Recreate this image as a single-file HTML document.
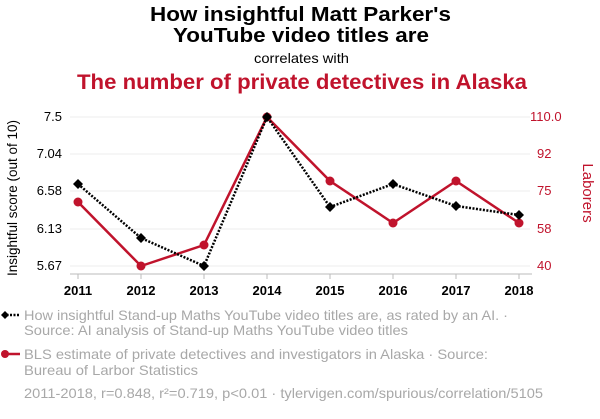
<!DOCTYPE html><html><head><style>body{margin:0;background:#fff;width:600px;height:414px;overflow:hidden;font-family:"Liberation Sans",sans-serif}</style></head><body>
<svg width="600" height="414" xmlns="http://www.w3.org/2000/svg" font-family="Liberation Sans, sans-serif">
<text x="150" y="21" font-size="20" font-weight="bold" textLength="301" lengthAdjust="spacingAndGlyphs">How insightful Matt Parker's</text>
<text x="173" y="42" font-size="20" font-weight="bold" textLength="256" lengthAdjust="spacingAndGlyphs">YouTube video titles are</text>
<text x="254" y="63" font-size="14" textLength="95" lengthAdjust="spacingAndGlyphs">correlates with</text>
<text x="77" y="89" font-size="21" font-weight="bold" fill="#c0132c" textLength="450" lengthAdjust="spacingAndGlyphs">The number of private detectives in Alaska</text>
<g stroke="#eee" stroke-width="1"><line x1="70" x2="530" y1="117" y2="117"/><line x1="70" x2="530" y1="154" y2="154"/><line x1="70" x2="530" y1="191" y2="191"/><line x1="70" x2="530" y1="229" y2="229"/><line x1="70" x2="530" y1="266" y2="266"/></g>
<line x1="70" x2="532" y1="274" y2="274" stroke="#bbb"/>
<g stroke="#bbb"><line x1="78" x2="78" y1="274" y2="279"/><line x1="141" x2="141" y1="274" y2="279"/><line x1="204" x2="204" y1="274" y2="279"/><line x1="267" x2="267" y1="274" y2="279"/><line x1="330" x2="330" y1="274" y2="279"/><line x1="393" x2="393" y1="274" y2="279"/><line x1="456" x2="456" y1="274" y2="279"/><line x1="519" x2="519" y1="274" y2="279"/></g>
<g font-size="13" font-weight="bold" text-anchor="middle"><text x="78" y="295">2011</text><text x="141" y="295">2012</text><text x="204" y="295">2013</text><text x="267" y="295">2014</text><text x="330" y="295">2015</text><text x="393" y="295">2016</text><text x="456" y="295">2017</text><text x="519" y="295">2018</text></g>
<g font-size="13" text-anchor="end"><text x="62" y="121">7.5</text><text x="62" y="158">7.04</text><text x="62" y="195">6.58</text><text x="62" y="233">6.13</text><text x="62" y="270">5.67</text></g>
<g font-size="13" fill="#c0132c"><text x="530" y="121">110.0</text><text x="537" y="158">92</text><text x="537" y="195">75</text><text x="537" y="233">58</text><text x="537" y="270">40</text></g>
<text transform="translate(17,198) rotate(-90)" text-anchor="middle" font-size="13.5">Insightful score (out of 10)</text>
<text transform="translate(583,193) rotate(90)" text-anchor="middle" font-size="15" fill="#c0132c">Laborers</text>
<polyline fill="none" stroke="#c0132c" stroke-width="2.5" points="78,202 141,266 204,245 267,117 330,181 393,223 456,181 519,223"/>
<g fill="#c0132c"><circle cx="78" cy="202" r="4.5"/><circle cx="141" cy="266" r="4.5"/><circle cx="204" cy="245" r="4.5"/><circle cx="267" cy="117" r="4.5"/><circle cx="330" cy="181" r="4.5"/><circle cx="393" cy="223" r="4.5"/><circle cx="456" cy="181" r="4.5"/><circle cx="519" cy="223" r="4.5"/></g>
<polyline fill="none" stroke="#000" stroke-width="2.5" stroke-dasharray="2,1.5" points="78,184 141,238 204,266 267,117 330,207 393,184 456,206 519,215"/>
<g fill="#000"><path d="M78 179l5 5-5 5-5-5z"/><path d="M141 233l5 5-5 5-5-5z"/><path d="M204 261l5 5-5 5-5-5z"/><path d="M267 112l5 5-5 5-5-5z"/><path d="M330 202l5 5-5 5-5-5z"/><path d="M393 179l5 5-5 5-5-5z"/><path d="M456 201l5 5-5 5-5-5z"/><path d="M519 210l5 5-5 5-5-5z"/></g>
<line x1="3" x2="20" y1="315" y2="315" stroke="#000" stroke-width="2.5" stroke-dasharray="2,1.5"/><path d="M5 311l4 4-4 4-4-4z"/>
<g font-size="14" fill="#a8a8a8"><text x="24" y="320" textLength="484" lengthAdjust="spacingAndGlyphs">How insightful Stand-up Maths YouTube video titles are, as rated by an AI. ·</text><text x="24" y="335" textLength="384" lengthAdjust="spacingAndGlyphs">Source: AI analysis of Stand-up Maths YouTube video titles</text>
<text x="24" y="359" textLength="464" lengthAdjust="spacingAndGlyphs">BLS estimate of private detectives and investigators in Alaska · Source:</text><text x="24" y="375" textLength="174" lengthAdjust="spacingAndGlyphs">Bureau of Larbor Statistics</text>
<text x="24" y="398" textLength="519" lengthAdjust="spacingAndGlyphs">2011-2018, r=0.848, r²=0.719, p&lt;0.01 · tylervigen.com/spurious/correlation/5105</text></g>
<line x1="3" x2="20" y1="354" y2="354" stroke="#c0132c" stroke-width="2.5"/><circle cx="5" cy="354" r="4" fill="#c0132c"/>
</svg></body></html>
